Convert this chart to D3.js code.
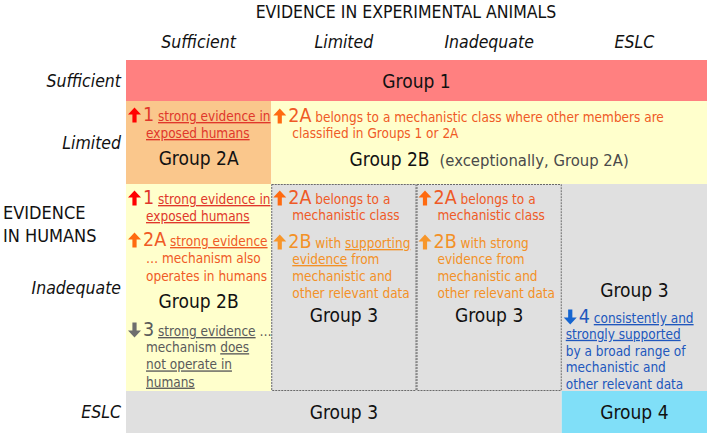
<!DOCTYPE html>
<html><head><meta charset="utf-8">
<script src="https://cdn.jsdelivr.net/npm/d3@7"></script>
<style>
html,body{margin:0;padding:0;background:#fff;}
svg{display:block;}
</style></head>
<body><svg id="chart" width="709" height="436"></svg>
<script>
// ---------------- data ----------------
const title = "EVIDENCE IN EXPERIMENTAL ANIMALS";
const humanTitle = ["EVIDENCE", "IN HUMANS"];
const animalCats = ["Sufficient", "Limited", "Inadequate", "ESLC"];
const humanCats = ["Sufficient", "Limited", "Inadequate", "ESLC"];

// group cells: row, first column, last column, label, tone
const groupCells = [
  {row: "Sufficient", c0: 0, c1: 3, label: "Group 1", tone: "g1"},
  {row: "Limited", c0: 0, c1: 0, label: "Group 2A", tone: "g2a"},
  {row: "Limited", c0: 1, c1: 3, label: "Group 2B", extra: "(exceptionally, Group 2A)", tone: "g2b"},
  {row: "Inadequate", c0: 0, c1: 0, label: "Group 2B", tone: "g2b"},
  {row: "Inadequate", c0: 1, c1: 1, label: "Group 3", tone: "g3", dashed: true},
  {row: "Inadequate", c0: 2, c1: 2, label: "Group 3", tone: "g3", dashed: true},
  {row: "Inadequate", c0: 3, c1: 3, label: "Group 3", tone: "g3"},
  {row: "ESLC", c0: 0, c1: 2, label: "Group 3", tone: "g3"},
  {row: "ESLC", c0: 3, c1: 3, label: "Group 4", tone: "g4"}
];

// notes: segments are [kind, text]; kind n = big number, u = underlined, t = plain
const notes = [
  {id: "lim-suf-1", row: "Limited", col: 0, dir: "up", tone: "red", lines: [
    [["n", "1"], ["t", " "], ["u", "strong evidence in"]],
    [["u", "exposed humans"]]]},
  {id: "lim-lim-2a", row: "Limited", col: 1, dir: "up", tone: "orred", lines: [
    [["n", "2A"], ["t", " belongs to a mechanistic class where other members are"]],
    [["t", "classified in Groups 1 or 2A"]]]},
  {id: "ina-suf-1", row: "Inadequate", col: 0, dir: "up", tone: "red", lines: [
    [["n", "1"], ["t", " "], ["u", "strong evidence in"]],
    [["u", "exposed humans"]]]},
  {id: "ina-suf-2a", row: "Inadequate", col: 0, dir: "up", tone: "orred", lines: [
    [["n", "2A"], ["t", " "], ["u", "strong evidence"]],
    [["t", "\u2026 mechanism also"]],
    [["t", "operates in humans"]]]},
  {id: "ina-suf-3", row: "Inadequate", col: 0, dir: "down", tone: "grey", lines: [
    [["n", "3"], ["t", " "], ["u", "strong evidence"], ["t", " \u2026"]],
    [["t", "mechanism "], ["u", "does"]],
    [["u", "not operate in"]],
    [["u", "humans"]]]},
  {id: "ina-lim-2a", row: "Inadequate", col: 1, dir: "up", tone: "orred", lines: [
    [["n", "2A"], ["t", " belongs to a"]],
    [["t", "mechanistic class"]]]},
  {id: "ina-lim-2b", row: "Inadequate", col: 1, dir: "up", tone: "orange", lines: [
    [["n", "2B"], ["t", " with "], ["u", "supporting"]],
    [["u", "evidence"], ["t", " from"]],
    [["t", "mechanistic and"]],
    [["t", "other relevant data"]]]},
  {id: "ina-ina-2a", row: "Inadequate", col: 2, dir: "up", tone: "orred", lines: [
    [["n", "2A"], ["t", " belongs to a"]],
    [["t", "mechanistic class"]]]},
  {id: "ina-ina-2b", row: "Inadequate", col: 2, dir: "up", tone: "orange", lines: [
    [["n", "2B"], ["t", " with strong"]],
    [["t", "evidence from"]],
    [["t", "mechanistic and"]],
    [["t", "other relevant data"]]]},
  {id: "ina-eslc-4", row: "Inadequate", col: 3, dir: "down", tone: "blue", lines: [
    [["n", "4"], ["t", " "], ["u", "consistently and"]],
    [["u", "strongly supported"]],
    [["t", "by a broad range of"]],
    [["t", "mechanistic and"]],
    [["t", "other relevant data"]]]}
];

// ---------------- layout & style ----------------
const gridLeft = 126, gridRight = 707;
const rowEdges = {Sufficient: [60, 101], Limited: [101, 184], Inadequate: [184, 391], ESLC: [391, 433]};
const fills = {g1: "#ff8080", g2a: "#fac78c", g2b: "#ffffcc", g3: "#e0e0e0", g4: "#80dff8"};
const tones = {
  red:    {arrow: "#ff0000", text: "#e0372b"},
  orred:  {arrow: "#ff6a10", text: "#ef5a26"},
  orange: {arrow: "#f7962a", text: "#f39127"},
  grey:   {arrow: "#6e6e6e", text: "#5a5a5a"},
  blue:   {arrow: "#1565d0", text: "#2057bd"}
};
// label y-centre (absolute) per group cell, in order of groupCells
const groupY = [81, 158, 159, 301, 315, 315, 290, 412, 412];
// note placement: first line centre, line height, hanging indent
const noteLayout = {
  "lim-suf-1":  {y: 115, lh: 18, indent: 18},
  "lim-lim-2a": {y: 116, lh: 17, indent: 19},
  "ina-suf-1":  {y: 198, lh: 18, indent: 18},
  "ina-suf-2a": {y: 240, lh: 18, indent: 18},
  "ina-suf-3":  {y: 330, lh: 17.2, indent: 18},
  "ina-lim-2a": {y: 198, lh: 17, indent: 19},
  "ina-lim-2b": {y: 242, lh: 17, indent: 19},
  "ina-ina-2a": {y: 198, lh: 17, indent: 19},
  "ina-ina-2b": {y: 242, lh: 17, indent: 19},
  "ina-eslc-4": {y: 317, lh: 16.8, indent: 2}
};

const FONT = "'DejaVu Sans Condensed', 'DejaVu Sans', Tahoma, sans-serif";
const NARROW = "'Liberation Sans Narrow', 'DejaVu Sans Condensed', 'Arial Narrow', sans-serif";
const TXT = 13.5, NUM = 19.5;

const svg = d3.select("#chart");

const x = d3.scaleBand().domain(animalCats).range([gridLeft, gridRight]).paddingInner(0).paddingOuter(0);
const colIdx = i => animalCats[i];
const yTop = r => rowEdges[r][0], yBot = r => rowEdges[r][1];

// ---------------- cells ----------------
const cellG = svg.append("g");
groupCells.forEach(c => {
  const x0 = x(colIdx(c.c0)), x1 = x(colIdx(c.c1)) + x.bandwidth();
  cellG.append("rect")
    .attr("x", x0).attr("y", yTop(c.row))
    .attr("width", x1 - x0).attr("height", yBot(c.row) - yTop(c.row))
    .attr("fill", fills[c.tone]);
});
groupCells.filter(c => c.dashed).forEach(c => {
  const x0 = x(colIdx(c.c0)), x1 = x(colIdx(c.c1)) + x.bandwidth();
  cellG.append("rect")
    .attr("x", x0 + 0.5).attr("y", yTop(c.row) + 0.5)
    .attr("width", x1 - x0 - 1).attr("height", yBot(c.row) - yTop(c.row) - 1)
    .attr("fill", "none").attr("stroke", "#6a6a6a").attr("stroke-width", 1)
    .attr("stroke-dasharray", "2,1");
});

// ---------------- group labels ----------------
groupCells.forEach((c, i) => {
  const x0 = x(colIdx(c.c0)), x1 = x(colIdx(c.c1)) + x.bandwidth();
  const t = svg.append("text")
    .attr("x", (x0 + x1) / 2).attr("y", groupY[i] + 6.5)
    .attr("text-anchor", "middle")
    .attr("font-family", FONT).attr("font-size", 19).attr("fill", "#111");
  t.append("tspan").text(c.label);
  if (c.extra) {
    t.append("tspan").attr("font-size", 16.5).attr("fill", "#4a4a4a").attr("dx", 10).text(c.extra);
  }
});

// ---------------- headers ----------------
svg.append("text").attr("x", 406).attr("y", 18)
  .attr("text-anchor", "middle").attr("font-family", NARROW).attr("font-size", 17.5)
  .attr("fill", "#111").text(title);

svg.append("g").selectAll("text").data(animalCats).join("text")
  .attr("x", d => x(d) + x.bandwidth() / 2).attr("y", 48)
  .attr("text-anchor", "middle").attr("font-family", NARROW).attr("font-style", "italic")
  .attr("font-size", 17.5).attr("fill", "#111").text(d => d);

svg.append("g").selectAll("text").data(humanCats).join("text")
  .attr("x", 121).attr("y", d => (yTop(d) + yBot(d)) / 2 + 6)
  .attr("text-anchor", "end").attr("font-family", FONT).attr("font-style", "italic")
  .attr("font-size", 17.5).attr("fill", "#111").text(d => d);

svg.append("g").selectAll("text").data(humanTitle).join("text")
  .attr("x", 3).attr("y", (d, i) => 219 + i * 23)
  .attr("font-family", FONT).attr("font-size", 18).attr("fill", "#111").text(d => d);

// ---------------- notes ----------------
function arrowPath(x0, cy, dir) {
  const s = dir === "up" ? 1 : -1;
  const pts = [
    [x0 + 6.5, cy - 7.5 * s],
    [x0 + 13, cy - 0.5 * s],
    [x0 + 8.6, cy - 0.5 * s],
    [x0 + 8.6, cy + 7.5 * s],
    [x0 + 4.4, cy + 7.5 * s],
    [x0 + 4.4, cy - 0.5 * s],
    [x0, cy - 0.5 * s]
  ];
  return d3.line()(pts) + "Z";
}

const noteG = svg.append("g");
notes.forEach(n => {
  const L = noteLayout[n.id];
  const tone = tones[n.tone];
  const left = x(colIdx(n.col)) + 2;
  noteG.append("path").attr("d", arrowPath(left, L.y, n.dir)).attr("fill", tone.arrow);
  n.lines.forEach((segs, li) => {
    const cy = L.y + li * L.lh;
    const t = noteG.append("text")
      .attr("x", li === 0 ? left + 15 : left + L.indent)
      .attr("y", cy + 5)
      .attr("font-family", FONT).attr("font-size", TXT).attr("fill", tone.text)
      .attr("xml:space", "preserve").style("white-space", "pre");
    segs.forEach(([k, s]) => {
      const ts = t.append("tspan").text(s);
      if (k === "n") ts.attr("font-size", NUM).attr("dy", 1);
      if (k === "u") ts.attr("text-decoration", "underline");
    });
  });
});
</script>
</body></html>
